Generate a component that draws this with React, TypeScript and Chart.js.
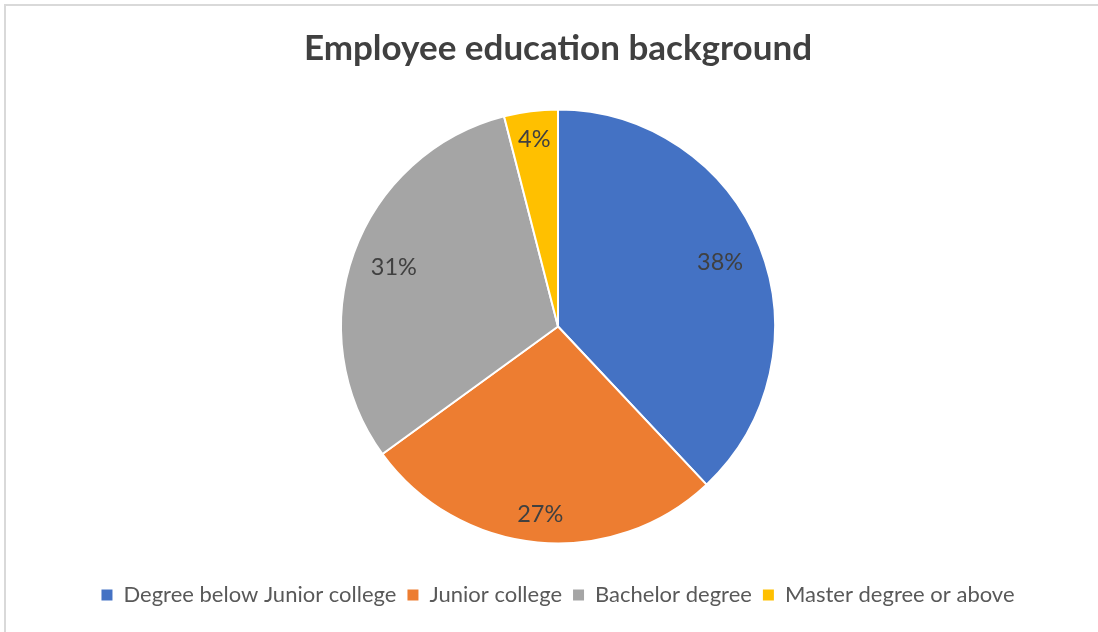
import React, { useEffect, useRef } from "react";
import { Chart, registerables } from "chart.js";

Chart.register(...registerables);

const titleText = "Employee education background";
const categories = [
  "Degree below Junior college",
  "Junior college",
  "Bachelor degree",
  "Master degree or above",
];
const shares = [38, 27, 31, 4];
const colors = ["#4472C4", "#ED7D31", "#A5A5A5", "#FFC000"];

const FONT = "Lato";

const insideEndLabels = {
  id: "insideEndLabels",
  afterDatasetsDraw(chart: any) {
    const ctx = chart.ctx;
    const meta = chart.getDatasetMeta(0);
    const data = chart.data.datasets[0].data as number[];
    const total = data.reduce((a, b) => a + b, 0);
    ctx.save();
    ctx.font = `23.5px ${FONT}`;
    ctx.fillStyle = "#404040";
    ctx.textAlign = "center";
    ctx.textBaseline = "middle";
    meta.data.forEach((arc: any, i: number) => {
      const { x, y, startAngle, endAngle, outerRadius } = arc.getProps(
        ["x", "y", "startAngle", "endAngle", "outerRadius"],
        true
      );
      const mid = (startAngle + endAngle) / 2;
      const dx = Math.cos(mid);
      const dy = Math.sin(mid);
      const text = Math.round((data[i] / total) * 100) + "%";
      const w = ctx.measureText(text).width + 6;
      const h = 24;
      const r = outerRadius - 14 - ((w / 2) * Math.abs(dx) + (h / 2) * Math.abs(dy));
      ctx.fillText(text, x + dx * r, y + dy * r);
    });
    ctx.restore();
  },
};

export default function App() {
  const ref = useRef<HTMLCanvasElement>(null);
  useEffect(() => {
    if (!ref.current) return;
    const chart = new Chart(ref.current, {
      type: "pie",
      data: {
        labels: categories,
        datasets: [
          {
            data: shares,
            backgroundColor: colors,
            borderColor: "#FFFFFF",
            borderWidth: 2,
            radius: 217,
          },
        ],
      },
      plugins: [insideEndLabels],
      options: {
        responsive: false,
        animation: false,
        layout: { padding: { left: 18, right: 0, top: 0, bottom: 16 } },
        plugins: {
          title: {
            display: true,
            text: titleText,
            color: "#404040",
            font: { family: FONT, size: 35, weight: "bold" },
            padding: { top: 28, bottom: 10 },
          },
          legend: {
            position: "bottom",
            labels: {
              color: "#595959",
              font: { family: FONT, size: 22 },
              boxWidth: 11,
              boxHeight: 11,
              padding: 11,
              generateLabels(chart: any) {
                const items = Chart.overrides.pie.plugins.legend.labels.generateLabels(chart);
                return items.map((it: any) => ({ ...it, lineWidth: 0, strokeStyle: it.fillStyle }));
              },
            },
          },
          tooltip: { enabled: false },
        },
      },
    });
    return () => chart.destroy();
  }, []);
  return (
    <div
      style={{
        position: "fixed",
        left: 0,
        top: 0,
        width: 1098,
        height: 632,
        overflow: "hidden",
        background: "#FFFFFF",
      }}
    >
      <div
        style={{
          position: "absolute",
          left: 4,
          top: 4,
          width: 1300,
          height: 900,
          border: "2px solid #D9D9D9",
        }}
      />
      <canvas
        ref={ref}
        width={1098}
        height={632}
        style={{ position: "absolute", left: 0, top: 0 }}
      />
    </div>
  );
}
